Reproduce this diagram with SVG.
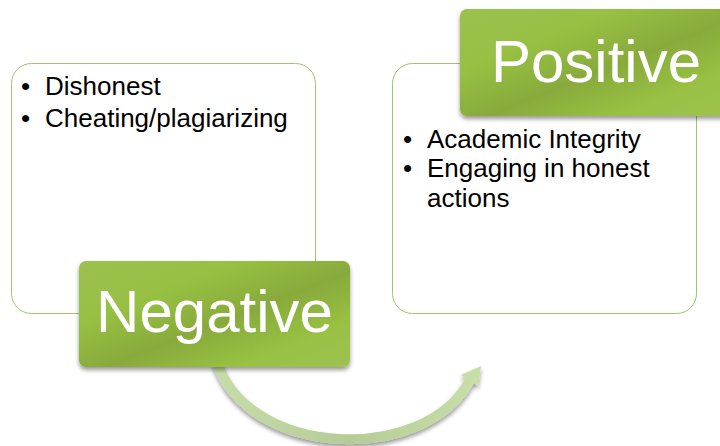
<svg xmlns="http://www.w3.org/2000/svg" width="720" height="446" viewBox="0 0 720 446">
  <defs>
    <linearGradient id="gGreen" x1="0" y1="0" x2="1" y2="1">
      <stop offset="0" stop-color="#9cc150"/>
      <stop offset="0.3" stop-color="#97c043"/>
      <stop offset="0.55" stop-color="#88aa3b"/>
      <stop offset="0.78" stop-color="#98c143"/>
      <stop offset="1" stop-color="#9dc250"/>
    </linearGradient>
    <linearGradient id="gArrow" x1="217" y1="368" x2="480" y2="368" gradientUnits="userSpaceOnUse">
      <stop offset="0" stop-color="#c6dca9"/>
      <stop offset="0.5" stop-color="#b5cc98"/>
      <stop offset="1" stop-color="#c8dfa8"/>
    </linearGradient>
    <filter id="shadow" x="-10%" y="-10%" width="120%" height="130%">
      <feDropShadow dx="0" dy="3" stdDeviation="2" flood-color="#000" flood-opacity="0.4"/>
    </filter>
  </defs>
  <style>
    .outline { fill: #ffffff; stroke: #a3c26c; stroke-width: 1; }
    .hdr { fill: url(#gGreen); filter: url(#shadow); }
    .hdrText { font-family: "Liberation Sans", Arial, sans-serif; font-size: 60px; fill: #ffffff; text-anchor: middle; }
    .bullet { font-family: "Liberation Sans", Arial, sans-serif; font-size: 26px; fill: #000000; }
  </style>
  <rect width="720" height="446" fill="#ffffff"/>

  <g id="negative-list">
    <rect class="outline" x="11.5" y="63.5" width="304" height="250" rx="20"/>
    <text class="bullet" x="21" y="95">•</text>
    <text class="bullet" x="45" y="95">Dishonest</text>
    <text class="bullet" x="21" y="127">•</text>
    <text class="bullet" x="45" y="127">Cheating/plagiarizing</text>
  </g>

  <g id="positive-list">
    <rect class="outline" x="392.5" y="63.5" width="304" height="250" rx="20"/>
    <text class="bullet" x="403" y="148">•</text>
    <text class="bullet" x="427" y="148">Academic Integrity</text>
    <text class="bullet" x="403" y="177">•</text>
    <text class="bullet" x="427" y="177">Engaging in honest</text>
    <text class="bullet" x="427" y="207">actions</text>
  </g>

  <g id="connectors">
    <g filter="url(#shadow)">
      <path d="M217,362 C248,458 425,465 470,380" fill="none" stroke="url(#gArrow)" stroke-width="10"/>
      <polygon points="461,375 481,366 478,386" fill="url(#gArrow)"/>
    </g>
  </g>

  <g id="negative">
    <rect class="hdr" x="79" y="261" width="271" height="106" rx="7"/>
    <text class="hdrText" x="214.5" y="332">Negative</text>
  </g>

  <g id="positive">
    <rect class="hdr" x="460" y="9" width="271" height="107" rx="7"/>
    <text class="hdrText" x="596" y="82">Positive</text>
  </g>
</svg>
